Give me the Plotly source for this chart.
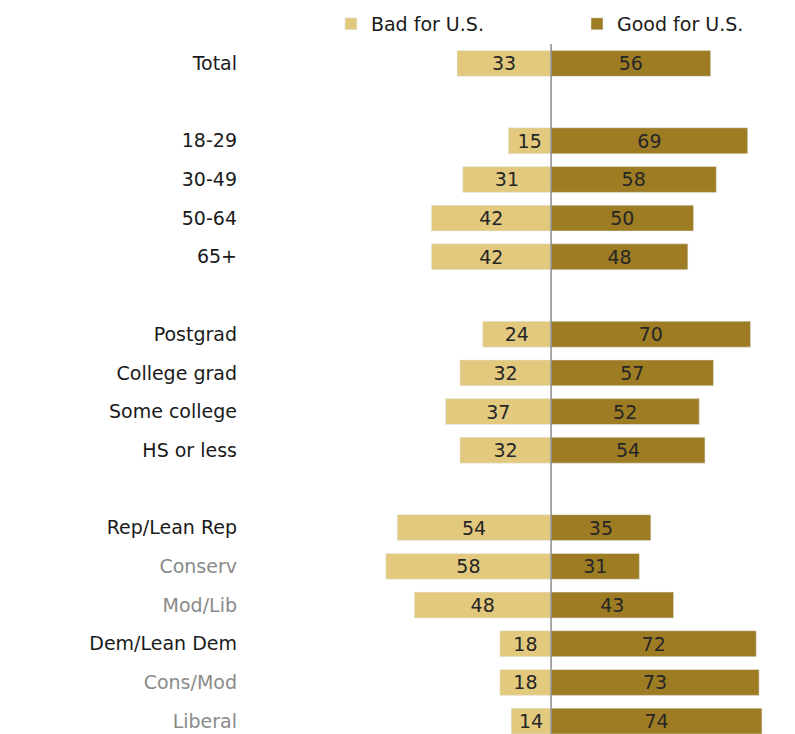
import plotly.graph_objects as go

categories = ["Total", " ", "18-29", "30-49", "50-64", "65+", "  ",
              "Postgrad", "College grad", "Some college", "HS or less", "   ",
              "Rep/Lean Rep", "Conserv", "Mod/Lib", "Dem/Lean Dem", "Cons/Mod", "Liberal"]
bad = [33, None, 15, 31, 42, 42, None, 24, 32, 37, 32, None, 54, 58, 48, 18, 18, 14]
good = [56, None, 69, 58, 50, 48, None, 70, 57, 52, 54, None, 35, 31, 43, 72, 73, 74]
sub_labels = {"Conserv", "Mod/Lib", "Cons/Mod", "Liberal"}

BAD_COLOR = "#E2C97E"
GOOD_COLOR = "#9E7C24"
FONT = "DejaVu Sans"
FS = 19

ticktext = []
for c in categories:
    if c.strip() == "":
        ticktext.append("")
    elif c in sub_labels:
        ticktext.append(f'<span style="color:#8a8a8a">{c}</span>')
    else:
        ticktext.append(c)

fig = go.Figure()
fig.add_trace(go.Bar(
    y=categories, x=[-v if v is not None else None for v in bad],
    orientation="h", name="Bad for U.S.", marker_color=BAD_COLOR,
    text=[str(v) if v is not None else "" for v in bad],
    textposition="inside", insidetextanchor="middle", constraintext="none",
    textfont=dict(family=FONT, size=FS, color="#262626"),
    width=0.67, hoverinfo="skip", legend="legend"))
fig.add_trace(go.Bar(
    y=categories, x=good,
    orientation="h", name="Good for U.S.", marker_color=GOOD_COLOR,
    text=[str(v) if v is not None else "" for v in good],
    textposition="inside", insidetextanchor="middle", constraintext="none",
    textfont=dict(family=FONT, size=FS, color="#262626"),
    width=0.67, hoverinfo="skip", legend="legend2"))

fig.add_shape(type="line", xref="x", yref="paper", x0=0, x1=0, y0=0, y1=1,
              line=dict(color="#8c8c8c", width=1.5), layer="above")

legend_common = dict(orientation="h", xanchor="left", y=1.0287, yanchor="middle",
                     font=dict(family=FONT, size=FS, color="#1a1a1a"),
                     itemclick=False, itemdoubleclick=False,
                     bgcolor="rgba(0,0,0,0)")

fig.update_layout(
    width=795, height=734,
    margin=dict(l=237, r=0, t=36, b=0, autoexpand=False),
    barmode="relative",
    plot_bgcolor="white", paper_bgcolor="white",
    font=dict(family=FONT, size=FS, color="#1a1a1a"),
    showlegend=True,
    legend=dict(x=0.154, **legend_common),
    legend2=dict(x=0.595, **legend_common),
    xaxis=dict(range=[-107.4, 88.4], visible=False, fixedrange=True),
    yaxis=dict(categoryorder="array", categoryarray=categories,
               tickmode="array", tickvals=categories, ticktext=ticktext,
               range=[17.54, -0.5], showgrid=False, zeroline=False,
               showline=False, ticks="", ticklabelstandoff=7,
               tickfont=dict(family=FONT, size=FS, color="#1a1a1a"),
               fixedrange=True),
)

fig.write_html("out.html")
